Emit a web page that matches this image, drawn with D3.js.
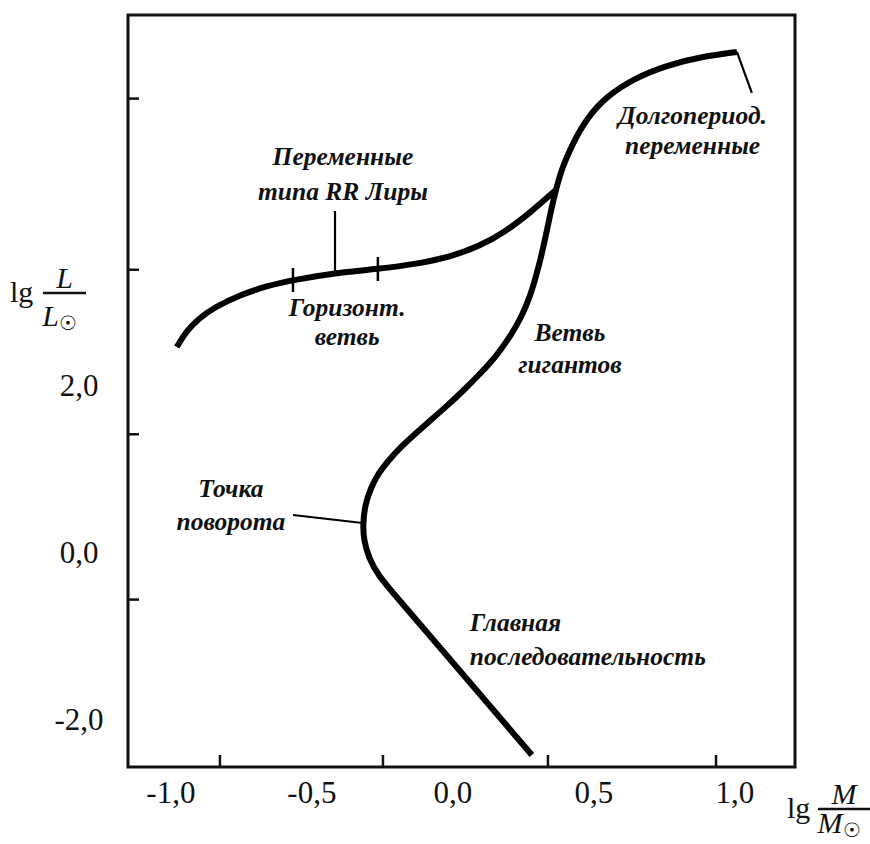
<!DOCTYPE html>
<html>
<head>
<meta charset="utf-8">
<script src="https://cdn.jsdelivr.net/npm/d3@7"></script>
<style>
  html, body { margin: 0; padding: 0; background: #fff; }
  svg { display: block; }
  .note { font-family: "Liberation Serif", "Times New Roman", serif; font-weight: bold; font-style: italic; font-size: 25.5px; fill: #111; }
  .tick-label { font-family: "Liberation Serif", "Times New Roman", serif; font-size: 31px; fill: #111; }
  .axis-title { font-family: "Liberation Serif", "Times New Roman", serif; font-size: 30px; fill: #111; }
  .axis-title .var { font-style: italic; }
</style>
</head>
<body>
<svg id="chart" width="870" height="844"></svg>
<script>
// Main sequence -> turn-off point -> subgiant/giant branch -> long-period variables (lg M, lg L)
const giantX = [0.280, 0.007, -0.206, -0.266, -0.298, -0.316, -0.319, -0.312, -0.291, -0.266, -0.230, -0.188, -0.138, -0.082, -0.021, 0.043, 0.103, 0.160, 0.206, 0.241, 0.273, 0.309, 0.330, 0.348, 0.365, 0.387, 0.422, 0.475, 0.546, 0.645, 0.762, 0.876, 1.007];
const giantY = [-2.431, -1.353, -0.515, -0.275, -0.072, 0.144, 0.323, 0.563, 0.766, 0.934, 1.090, 1.246, 1.401, 1.569, 1.749, 1.952, 2.156, 2.371, 2.599, 2.802, 3.042, 3.473, 3.796, 4.096, 4.335, 4.599, 4.874, 5.198, 5.461, 5.677, 5.832, 5.928, 5.988];

// Horizontal branch, joining the giant branch
const hbX = [-0.979, -0.947, -0.904, -0.844, -0.755, -0.660, -0.567, -0.418, -0.266, -0.128, -0.011, 0.096, 0.184, 0.273, 0.365];
const hbY = [2.455, 2.635, 2.790, 2.934, 3.078, 3.186, 3.257, 3.341, 3.389, 3.449, 3.533, 3.665, 3.832, 4.060, 4.335];

// Boundaries of the RR Lyrae gap on the horizontal branch
const rrGapX = [-0.567, -0.266];
const rrGapY = [3.257, 3.389];

// Pointer lines: [x1, y1, x2, y2] in data units
const rrPointer = [-0.418, 4.084, -0.418, 3.341];
const turnoffPointer = [-0.567, 0.443, -0.320, 0.347];
const lpvPointer = [1.007, 5.988, 1.060, 5.497];

// Axis ticks and labels
const xTickValues = [-0.826, -0.248, 0.337, 0.933];
const yTickValues = [-0.57, 1.41, 3.38, 5.43];
const xLabelValues = [-1.0, -0.5, 0.0, 0.5, 1.0];
const xLabelTexts = ["-1,0", "-0,5", "0,0", "0,5", "1,0"];
const yLabelValues = [2.0, 0.0, -2.0];
const yLabelTexts = ["2,0", "0,0", "-2,0"];

// Annotations (data units); anchor "middle" or "start"
const notes = [
  { lines: ["Переменные", "типа RR Лиры"], x: -0.390, y: [4.635, 4.216], anchor: "middle" },
  { lines: ["Горизонт.", "ветвь"], x: -0.375, y: [2.826, 2.479], anchor: "middle" },
  { lines: ["Долгопериод.", "переменные"], x: 0.850, y: [5.126, 4.766], anchor: "middle" },
  { lines: ["Ветвь", "гигантов"], x: 0.415, y: [2.527, 2.144], anchor: "middle" },
  { lines: ["Точка", "поворота"], x: -0.787, y: [0.659, 0.263], anchor: "middle" },
  { lines: ["Главная", "последовательность"], x: 0.060, y: [-0.946, -1.353], anchor: "start" }
];

const svg = d3.select("#chart");
const frame = { left: 128, right: 795, top: 15, bottom: 767 };

const x = d3.scaleLinear().domain([-1.152, 1.213]).range([frame.left, frame.right]);
const y = d3.scaleLinear().domain([-2.575, 6.431]).range([frame.bottom, frame.top]);

// Frame
svg.append("rect")
  .attr("x", frame.left).attr("y", frame.top)
  .attr("width", frame.right - frame.left).attr("height", frame.bottom - frame.top)
  .attr("fill", "none").attr("stroke", "#111").attr("stroke-width", 3);

// Inward ticks
svg.append("g").selectAll("line").data(xTickValues).join("line")
  .attr("x1", d => x(d)).attr("x2", d => x(d))
  .attr("y1", frame.bottom).attr("y2", frame.bottom - 12)
  .attr("stroke", "#111").attr("stroke-width", 2.5);

svg.append("g").selectAll("line").data(yTickValues).join("line")
  .attr("y1", d => y(d)).attr("y2", d => y(d))
  .attr("x1", frame.left).attr("x2", frame.left + 11)
  .attr("stroke", "#111").attr("stroke-width", 2.5);

// Tick labels
svg.append("g").selectAll("text").data(xLabelValues).join("text")
  .attr("class", "tick-label")
  .attr("x", d => x(d)).attr("y", 803)
  .attr("text-anchor", "middle")
  .text((d, i) => xLabelTexts[i]);

svg.append("g").selectAll("text").data(yLabelValues).join("text")
  .attr("class", "tick-label")
  .attr("x", 79).attr("y", d => y(d) + 11)
  .attr("text-anchor", "middle")
  .text((d, i) => yLabelTexts[i]);

// Axis titles: lg L/L☉ and lg M/M☉
function fractionTitle(g, sym, lgX, barX1, barX2, barY, lowerGap) {
  g.append("text").attr("class", "axis-title").attr("x", lgX).attr("y", barY + 9).text("lg");
  const cx = (barX1 + barX2) / 2;
  g.append("line").attr("x1", barX1).attr("x2", barX2).attr("y1", barY).attr("y2", barY)
    .attr("stroke", "#111").attr("stroke-width", 2.5);
  g.append("text").attr("class", "axis-title").attr("x", cx).attr("y", barY - 5)
    .attr("text-anchor", "middle").append("tspan").attr("class", "var").text(sym);
  const lower = g.append("text").attr("class", "axis-title").attr("x", cx - 5).attr("y", barY + lowerGap)
    .attr("text-anchor", "middle");
  lower.append("tspan").attr("class", "var").text(sym);
  lower.append("tspan").attr("font-size", 20).attr("dy", 4).text("☉");
}
fractionTitle(svg.append("g"), "L", 10, 43, 86, 293, 33);
fractionTitle(svg.append("g"), "M", 787, 818, 870, 809, 24);

// Curves
const line = d3.line().x(d => x(d[0])).y(d => y(d[1])).curve(d3.curveBasis);

svg.append("path")
  .datum(d3.zip(giantX, giantY))
  .attr("d", line)
  .attr("fill", "none").attr("stroke", "#000").attr("stroke-width", 6)
  .attr("stroke-linecap", "butt").attr("stroke-linejoin", "round");

svg.append("path")
  .datum(d3.zip(hbX, hbY))
  .attr("d", line)
  .attr("fill", "none").attr("stroke", "#000").attr("stroke-width", 6)
  .attr("stroke-linecap", "butt").attr("stroke-linejoin", "round");

// RR Lyrae gap boundaries
svg.append("g").selectAll("line").data(d3.zip(rrGapX, rrGapY)).join("line")
  .attr("x1", d => x(d[0])).attr("x2", d => x(d[0]))
  .attr("y1", d => y(d[1]) - 12).attr("y2", d => y(d[1]) + 12)
  .attr("stroke", "#000").attr("stroke-width", 2.5);

// Pointers
svg.append("g").selectAll("line").data([rrPointer, turnoffPointer, lpvPointer]).join("line")
  .attr("x1", d => x(d[0])).attr("y1", d => y(d[1]))
  .attr("x2", d => x(d[2])).attr("y2", d => y(d[3]))
  .attr("stroke", "#000").attr("stroke-width", 2.2);

// Annotations
const noteG = svg.append("g");
notes.forEach(n => {
  n.lines.forEach((t, i) => {
    noteG.append("text").attr("class", "note")
      .attr("x", x(n.x)).attr("y", y(n.y[i]))
      .attr("text-anchor", n.anchor)
      .text(t);
  });
});
</script>
</body>
</html>
